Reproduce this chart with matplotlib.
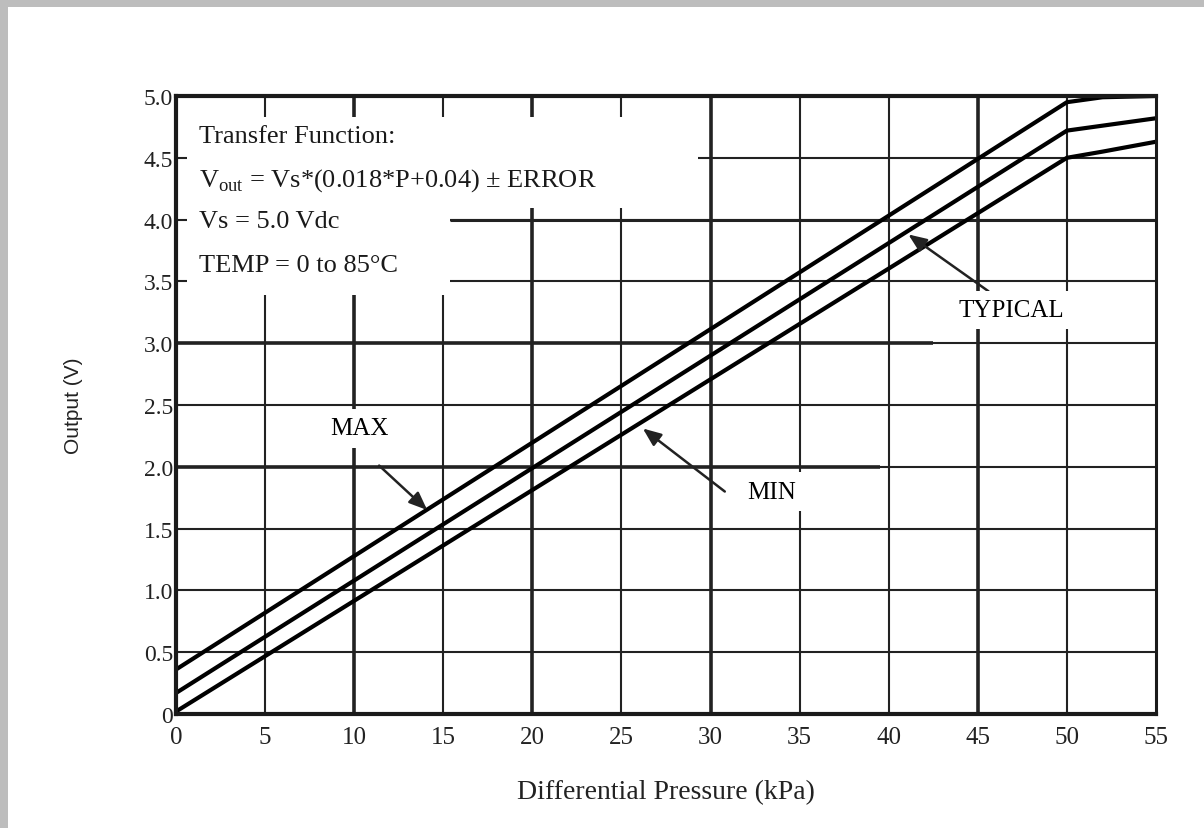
"""
Sensor transfer function: output voltage vs differential pressure,
with typical, max and min error band curves.
"""
import matplotlib.pyplot as plt
from matplotlib.patches import Rectangle

# pressure axis points (kPa) and read-off output voltages (V)
pressure = [0, 50, 52, 55]
v_max = [0.36, 4.95, 4.99, 5.0]
v_typ = [0.17, 4.72, 4.76, 4.82]
v_min = [0.02, 4.50, 4.55, 4.63]

x_ticks = [0, 5, 10, 15, 20, 25, 30, 35, 40, 45, 50, 55]
y_ticks = [0, 0.5, 1.0, 1.5, 2.0, 2.5, 3.0, 3.5, 4.0, 4.5, 5.0]
y_tick_labels = ["0", "0.5", "1.0", "1.5", "2.0", "2.5", "3.0", "3.5", "4.0", "4.5", "5.0"]

heavy_x = [10, 20, 30, 45]

box_lines = [
    "Transfer Function:",
    r"V$_{\mathrm{out}}$ = Vs*(0.018*P+0.04) ± ERROR",
    "Vs = 5.0 Vdc",
    "TEMP = 0 to 85°C",
]
box_line_y = [4.68, 4.32, 3.99, 3.63]

plt.rcParams["font.family"] = ["Liberation Serif", "DejaVu Serif"]
plt.rcParams["mathtext.fontset"] = "custom"
plt.rcParams["mathtext.rm"] = "Liberation Serif"

fig = plt.figure(figsize=(12.04, 8.29), dpi=100)
# gray frame along the top and left edges
fig.patches.append(Rectangle((0, 0), 1, 1, transform=fig.transFigure,
                             facecolor="#bdbdbd", edgecolor="none", zorder=-2))
fig.patches.append(Rectangle((8 / 1204, 0), 1, 1 - 8 / 829, transform=fig.transFigure,
                             facecolor="white", edgecolor="none", zorder=-1))

ax = fig.add_axes([176 / 1204, 1 - 715 / 829, 980 / 1204, 618 / 829])
ax.set_xlim(0, 55)
ax.set_ylim(0, 5.0)

# grid, drawn by hand so some lines can be heavier than others
for x in x_ticks[1:-1]:
    lw = 2.6 if x in heavy_x else 1.5
    ax.vlines(x, 0, 5.0, color="#222222", lw=lw, zorder=1)
for y in y_ticks[1:-1]:
    ax.hlines(y, 0, 55, color="#222222", lw=1.5, zorder=1)
ax.hlines(2.0, 0, 39.5, color="#222222", lw=2.6, zorder=1)
ax.hlines(3.0, 0, 42.5, color="#222222", lw=2.6, zorder=1)
ax.hlines(4.0, 15.4, 55, color="#222222", lw=2.2, zorder=1)

# blank area behind the transfer function note
ax.add_patch(Rectangle((0.6, 4.09), 28.7, 0.74, facecolor="white", edgecolor="none", zorder=2))
ax.add_patch(Rectangle((0.6, 3.39), 14.8, 0.75, facecolor="white", edgecolor="none", zorder=2))

for label, yy in zip(box_lines, box_line_y):
    ax.text(1.3, yy, label, fontsize=19, va="center", ha="left", zorder=5, color="#1a1a1a")

# error band curves
for v in (v_max, v_typ, v_min):
    ax.plot(pressure, v, color="black", lw=3.0, zorder=3, solid_capstyle="butt")

# curve call-outs
arrow = dict(arrowstyle="-|>,head_length=1.1,head_width=0.45", color="#222222", lw=1.8,
             shrinkA=0, shrinkB=0)
label_box = dict(facecolor="white", edgecolor="none", pad=6)
ax.annotate("", xy=(14.1, 1.65), xytext=(11.4, 2.01), arrowprops=arrow, zorder=4)
ax.text(10.3, 2.31, "MAX", fontsize=18, ha="center", va="center", bbox=label_box, zorder=4)
ax.annotate("", xy=(26.2, 2.31), xytext=(30.8, 1.80), arrowprops=arrow, zorder=4)
ax.text(33.4, 1.80, "MIN", fontsize=18, ha="center", va="center", bbox=label_box, zorder=4)
ax.annotate("", xy=(41.1, 3.88), xytext=(45.6, 3.42), arrowprops=arrow, zorder=4)
ax.text(46.9, 3.27, "TYPICAL", fontsize=18, ha="center", va="center", bbox=label_box, zorder=4)

for side in ["left", "bottom", "top"]:
    ax.spines[side].set_linewidth(3.0)
ax.spines["right"].set_linewidth(2.2)
for s in ax.spines.values():
    s.set_color("#1a1a1a")
    s.set_zorder(6)

ax.set_xticks(x_ticks)
ax.set_xticklabels([str(v) for v in x_ticks], fontsize=18)
ax.set_yticks(y_ticks)
ax.set_yticklabels(y_tick_labels, fontsize=17)
ax.tick_params(axis="x", length=0, pad=9, colors="#222222")
ax.tick_params(axis="y", length=0, pad=2, colors="#222222")

ax.set_xlabel("Differential Pressure (kPa)", fontsize=20, labelpad=22, color="#222222")
ax.set_ylabel("Output (V)", fontsize=15, family=["Liberation Sans", "DejaVu Sans"],
              labelpad=44, color="#222222")

fig.savefig("out.png", dpi=100)
